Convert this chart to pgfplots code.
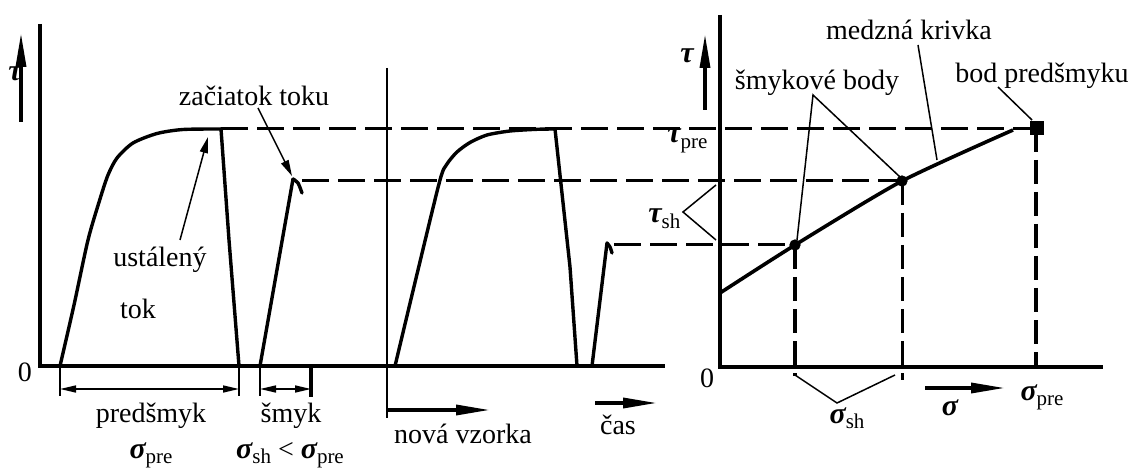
\documentclass[border=0pt]{standalone}
\usepackage{fontspec}
\setmainfont{Liberation Serif}
\usepackage{pgfplots}
\pgfplotsset{compat=1.18}
\usetikzlibrary{arrows.meta}

% italic Greek symbol, optionally with an upright subscript
\newcommand{\gk}[1]{{\fontsize{15}{16}\selectfont\bfseries\itshape #1}}
\newcommand{\gs}[2]{\gk{#1}\raisebox{-0.45ex}{\fontsize{10.5}{11}\selectfont #2}}

\begin{document}
\begin{tikzpicture}[every node/.style={font=\fontsize{14}{16}\selectfont, inner sep=0pt}]
\begin{axis}[
  scale only axis, width=570pt, height=232pt,
  xmin=0, xmax=1140, ymin=0, ymax=464, y dir=reverse,
  hide axis, clip=false,
  ax/.style={black, line width=2pt, line join=miter, line cap=butt},
  crv/.style={black, line width=1.7pt, line join=round, line cap=round},
  dsh/.style={black, line width=1.5pt, dash pattern=on 13.5pt off 4.5pt},
  vdsh/.style={black, line width=1.5pt, dash pattern=on 12pt off 4pt},
  thin line/.style={black, line width=0.75pt},
  dim/.style={black, line width=0.8pt, {Triangle[length=8pt,width=3.5pt]}-{Triangle[length=8pt,width=3.5pt]}},
  big arrow/.style={black, line width=1.7pt, -{Triangle[length=17pt,width=5pt]}},
]
% frame of the drawing area
\addplot[draw=none] coordinates {(0,0) (1140,464)};

% ---------- time diagram ----------
\addplot[ax] coordinates {(40,24) (40,366) (665,366)};
\addplot[black, line width=1pt] coordinates {(387,68) (387,418)};
\addplot[big arrow] coordinates {(21,122) (21,33)};

% pre-shear, first sample
\addplot[crv, smooth, tension=0.45] coordinates {
  (60,366) (74,305) (88,240) (100,199) (108,175) (117,158) (133,143)
  (157,133.5) (183,129.5) (221,129)};
\addplot[crv] coordinates {(221,129) (229,240) (239,366)};
% shear, first sample
\addplot[crv] coordinates {(260,366) (293,179)};
\addplot[crv, smooth] coordinates {(293,179) (298,183) (302,193)};

% pre-shear, new sample
\addplot[crv, smooth, tension=0.45] coordinates {
  (395,366) (418,270) (440,180) (447,164) (457,152) (470,142.5)
  (487,135) (510,131) (537,129.3) (555,129)};
\addplot[crv] coordinates {(555,129) (570,267) (577,366)};
% shear, new sample
\addplot[crv] coordinates {(592,366) (607,243)};
\addplot[crv, smooth] coordinates {(607,243) (610,247) (612,253)};

% levels carried over to the yield locus
\addplot[dsh] coordinates {(221,129) (1030,129)};
\addplot[dsh] coordinates {(302,181) (900,181)};
\addplot[dsh] coordinates {(614,245) (793,245)};

% pointers
\addplot[thin line, -{Triangle[length=8pt,width=4pt]}] coordinates {(258,108) (292,176)};
\addplot[thin line, -{Triangle[length=8pt,width=4pt]}] coordinates {(180,240) (208,137)};

% dimension lines
\addplot[thin line] coordinates {(60,366) (60,396)};
\addplot[thin line] coordinates {(239,366) (239,396)};
\addplot[thin line] coordinates {(260,366) (260,396)};
\addplot[black, line width=1.6pt] coordinates {(311,366) (311,397)};
\addplot[dim] coordinates {(60,389) (239,389)};
\addplot[dim] coordinates {(260,389) (311,389)};

\addplot[big arrow] coordinates {(387,410) (490,410)};
\addplot[big arrow] coordinates {(595,403) (657,403)};

% labels
\node[anchor=base] at (axis cs:15,81) {\gk{τ}};
\node[anchor=base] at (axis cs:25,381) {0};
\node[anchor=base] at (axis cs:254,106) {začiatok toku};
\node[anchor=base] at (axis cs:160,267) {ustálený};
\node[anchor=base] at (axis cs:138,318) {tok};
\node[anchor=base] at (axis cs:151,422) {predšmyk};
\node[anchor=base] at (axis cs:151,458) {\gs{σ}{pre}};
\node[anchor=base] at (axis cs:291,422) {šmyk};
\node[anchor=base] at (axis cs:290,458) {\gs{σ}{sh} < \gs{σ}{pre}};
\node[anchor=base] at (axis cs:463,443) {nová vzorka};
\node[anchor=base] at (axis cs:618,434) {čas};

% ---------- yield locus ----------
\addplot[ax] coordinates {(720,15) (720,367) (1103,367)};
\addplot[big arrow] coordinates {(705,110) (705,34)};

\addplot[black, line width=1.8pt, smooth, tension=0.4] coordinates {
  (720,293) (795,245) (902,181) (1013,130)};

\addplot[vdsh, line width=2.2pt] coordinates {(795,245) (795,376)};
\addplot[vdsh] coordinates {(902,181) (902,380)};
\addplot[vdsh, line width=1.8pt] coordinates {(1036,128) (1036,367)};

\addplot[only marks, mark=*, mark size=2.6pt, black] coordinates {(795,245) (902,181)};
\addplot[only marks, mark=square*, mark size=3.2pt, black] coordinates {(1037,128)};

% pointers and braces
\addplot[thin line] coordinates {(797,240) (813,95) (900,177)};
\addplot[thin line] coordinates {(918,45) (937,160)};
\addplot[thin line] coordinates {(998,87) (1032,120)};
\addplot[thin line] coordinates {(716,185) (683,212) (716,240)};
\addplot[thin line] coordinates {(795,375) (837,403) (895,375)};

\addplot[big arrow] coordinates {(925,388) (1005,388)};

\node[anchor=base] at (axis cs:687,63) {\gk{τ}};
\node[anchor=base] at (axis cs:707,387) {0};
\node[anchor=base west] at (axis cs:667,143) {\gs{τ}{pre}};
\node[anchor=base west] at (axis cs:648,223) {\gs{τ}{sh}};
\node[anchor=base] at (axis cs:817,90) {šmykové body};
\node[anchor=base] at (axis cs:909,40) {medzná krivka};
\node[anchor=base] at (axis cs:1042,83) {bod predšmyku};
\node[anchor=base] at (axis cs:847,423) {\gs{σ}{sh}};
\node[anchor=base] at (axis cs:950,415) {\gk{σ}};
\node[anchor=base] at (axis cs:1042,400) {\gs{σ}{pre}};
\end{axis}
\end{tikzpicture}
\end{document}
